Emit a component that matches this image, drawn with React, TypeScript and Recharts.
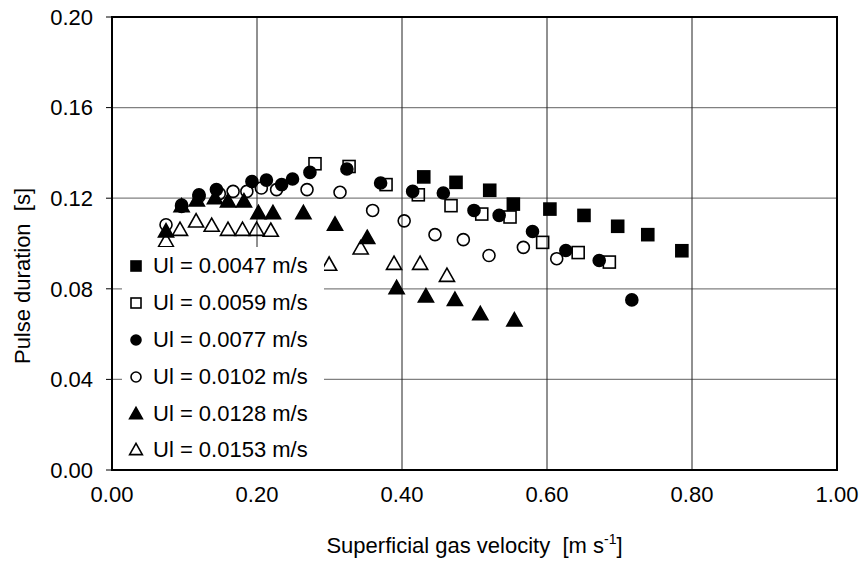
import React from 'react';
import { ScatterChart, Scatter, XAxis, YAxis, CartesianGrid, Legend, ReferenceArea } from 'recharts';

const xTicks = [0, 0.2, 0.4, 0.6, 0.8, 1.0];
const yTicks = [0, 0.04, 0.08, 0.12, 0.16, 0.2];

const ul0047 = [
  { x: 0.430, y: 0.1294 }, { x: 0.4745, y: 0.127 }, { x: 0.521, y: 0.1235 }, { x: 0.5536, y: 0.1174 },
  { x: 0.604, y: 0.1152 }, { x: 0.651, y: 0.1124 }, { x: 0.6975, y: 0.1076 }, { x: 0.739, y: 0.1039 },
  { x: 0.786, y: 0.0968 },
];
const ul0059 = [
  { x: 0.280, y: 0.1352 }, { x: 0.327, y: 0.134 }, { x: 0.378, y: 0.126 }, { x: 0.4225, y: 0.1215 },
  { x: 0.4676, y: 0.1167 }, { x: 0.510, y: 0.113 }, { x: 0.549, y: 0.1117 }, { x: 0.594, y: 0.1005 },
  { x: 0.643, y: 0.096 }, { x: 0.686, y: 0.0918 },
];
const ul0077 = [
  { x: 0.096, y: 0.1164 }, { x: 0.120, y: 0.1215 }, { x: 0.144, y: 0.1238 }, { x: 0.193, y: 0.1274 },
  { x: 0.213, y: 0.128 }, { x: 0.234, y: 0.126 }, { x: 0.249, y: 0.1285 }, { x: 0.273, y: 0.1314 },
  { x: 0.324, y: 0.1329 }, { x: 0.3705, y: 0.1267 }, { x: 0.4147, y: 0.123 }, { x: 0.457, y: 0.1223 },
  { x: 0.4993, y: 0.1146 }, { x: 0.534, y: 0.1124 }, { x: 0.580, y: 0.1053 }, { x: 0.626, y: 0.0969 },
  { x: 0.672, y: 0.0925 }, { x: 0.717, y: 0.0751 },
];
const ul0102 = [
  { x: 0.0745, y: 0.1083 }, { x: 0.096, y: 0.117 }, { x: 0.120, y: 0.1208 }, { x: 0.148, y: 0.122 },
  { x: 0.167, y: 0.123 }, { x: 0.186, y: 0.123 }, { x: 0.206, y: 0.1245 }, { x: 0.227, y: 0.1238 },
  { x: 0.269, y: 0.1238 }, { x: 0.3145, y: 0.1226 }, { x: 0.3595, y: 0.1146 }, { x: 0.403, y: 0.110 },
  { x: 0.4455, y: 0.1039 }, { x: 0.4846, y: 0.1017 }, { x: 0.520, y: 0.0947 }, { x: 0.5674, y: 0.0983 },
  { x: 0.6134, y: 0.0933 },
];
const ul0128 = [
  { x: 0.0745, y: 0.1053 }, { x: 0.096, y: 0.1164 }, { x: 0.117, y: 0.119 }, { x: 0.142, y: 0.120 },
  { x: 0.160, y: 0.1186 }, { x: 0.182, y: 0.1186 }, { x: 0.202, y: 0.1134 }, { x: 0.222, y: 0.1134 },
  { x: 0.264, y: 0.1134 }, { x: 0.3076, y: 0.1083 }, { x: 0.352, y: 0.1024 }, { x: 0.3926, y: 0.0803 },
  { x: 0.433, y: 0.0766 }, { x: 0.473, y: 0.0751 }, { x: 0.508, y: 0.0688 }, { x: 0.555, y: 0.066 },
];
const ul0153 = [
  { x: 0.0745, y: 0.101 }, { x: 0.0938, y: 0.106 }, { x: 0.116, y: 0.1097 }, { x: 0.1375, y: 0.1078 },
  { x: 0.160, y: 0.106 }, { x: 0.180, y: 0.106 }, { x: 0.1995, y: 0.106 }, { x: 0.219, y: 0.1056 },
  { x: 0.2995, y: 0.0906 }, { x: 0.343, y: 0.0978 }, { x: 0.389, y: 0.091 }, { x: 0.425, y: 0.091 },
  { x: 0.462, y: 0.0857 },
];

const seriesNames = ['Ul = 0.0047 m/s', 'Ul = 0.0059 m/s', 'Ul = 0.0077 m/s', 'Ul = 0.0102 m/s', 'Ul = 0.0128 m/s', 'Ul = 0.0153 m/s'];
const seriesData = [ul0047, ul0059, ul0077, ul0102, ul0128, ul0153];
const seriesKinds = ['square', 'square', 'circle', 'circle', 'triangle', 'triangle'];
const seriesFilled = [true, false, true, false, true, false];

const FONT = '"Liberation Sans", Arial, sans-serif';
const FS = 22;

function Marker({ kind, filled, cx, cy, s }: any) {
  const fill = filled ? '#000' : 'none';
  const sw = 1.6;
  if (kind === 'square') {
    const h = s / 2;
    return <rect x={cx - h} y={cy - h} width={s} height={s} fill={fill} stroke="#000" strokeWidth={sw} />;
  }
  if (kind === 'circle') {
    return <circle cx={cx} cy={cy} r={s / 2} fill={fill} stroke="#000" strokeWidth={sw} />;
  }
  const w = s * 0.58;
  const pts = `${cx},${cy - s * 0.6} ${cx + w},${cy + s * 0.42} ${cx - w},${cy + s * 0.42}`;
  return <polygon points={pts} fill={fill} stroke="#000" strokeWidth={sw} strokeLinejoin="miter" />;
}

function makeShape(kind: string, filled: boolean) {
  return (props: any) => {
    const { cx, cy } = props;
    if (cx == null || cy == null) return <g />;
    return <Marker kind={kind} filled={filled} cx={cx} cy={cy} s={kind === 'triangle' ? 13 : 12} />;
  };
}

const renderLegend = () => (
  <div style={{ background: '#fff', width: 202, fontFamily: FONT, fontSize: FS, color: '#000', paddingTop: 1 }}>
    {seriesNames.map((n, i) => (
      <div key={n} style={{ height: 36.8, display: 'flex', alignItems: 'center', whiteSpace: 'nowrap' }}>
        <svg width={24} height={20} style={{ marginLeft: 2, marginRight: 5 }}>
          <Marker kind={seriesKinds[i]} filled={seriesFilled[i]} cx={12} cy={10} s={seriesKinds[i] === 'triangle' ? 11 : 10} />
        </svg>
        <span>{n}</span>
      </div>
    ))}
  </div>
);

const renderXTitle = (props: any) => {
  const vb = props.viewBox || {};
  return (
    <text x={vb.x + vb.width / 2} y={vb.y + 83} textAnchor="middle" fontFamily={FONT} fontSize={FS} fill="#000" style={{ whiteSpace: 'pre' }}>
      Superficial gas velocity  [m s<tspan dy={-9} fontSize={14}>-1</tspan><tspan dy={9}>]</tspan>
    </text>
  );
};

const renderYTitle = (props: any) => {
  const vb = props.viewBox || {};
  const x = vb.x + 30;
  const y = vb.y + 259;
  return (
    <text x={x} y={y} textAnchor="middle" fontFamily={FONT} fontSize={FS} fill="#000" transform={`rotate(-90, ${x}, ${y})`} style={{ whiteSpace: 'pre' }}>
      Pulse duration  [s]
    </text>
  );
};

export default function App() {
  return (
    <div style={{ position: 'absolute', left: 0, top: 0, background: '#fff' }}>
      <ScatterChart width={864} height={573} margin={{ top: 17, right: 27, bottom: 0, left: 0 }}>
        <CartesianGrid horizontal={true} vertical={false} stroke="#808080" strokeWidth={1.2} />
        <CartesianGrid horizontal={false} vertical={true} stroke="#222" strokeWidth={1} />
        <XAxis
          type="number"
          dataKey="x"
          domain={[0, 1]}
          ticks={xTicks}
          tickFormatter={(v: number) => v.toFixed(2)}
          height={103}
          axisLine={{ stroke: '#000', strokeWidth: 2 }}
          tickLine={false}
          tickSize={0}
          tickMargin={16}
          tick={{ fontFamily: FONT, fontSize: FS, fill: '#000' }}
          label={{ content: renderXTitle }}
          allowDataOverflow
        />
        <YAxis
          type="number"
          dataKey="y"
          domain={[0, 0.2]}
          ticks={yTicks}
          tickFormatter={(v: number) => v.toFixed(2)}
          width={112}
          axisLine={{ stroke: '#000', strokeWidth: 2 }}
          tickLine={{ stroke: '#000', strokeWidth: 1 }}
          tickSize={6}
          tickMargin={13}
          tick={{ fontFamily: FONT, fontSize: FS, fill: '#000' }}
          label={{ content: renderYTitle }}
          allowDataOverflow
        />
        <ReferenceArea x1={0} x2={1} y1={0} y2={0.2} fill="none" stroke="#000" strokeWidth={2} ifOverflow="visible" />
        {seriesNames.map((n, i) => (
          <Scatter
            key={n}
            name={n}
            data={seriesData[i]}
            shape={makeShape(seriesKinds[i], seriesFilled[i])}
            isAnimationActive={false}
          />
        ))}
        <Legend
          layout="vertical"
          align="center"
          verticalAlign="middle"
          content={renderLegend}
          wrapperStyle={{ left: 122, top: 247, width: 202 }}
        />
      </ScatterChart>
    </div>
  );
}
